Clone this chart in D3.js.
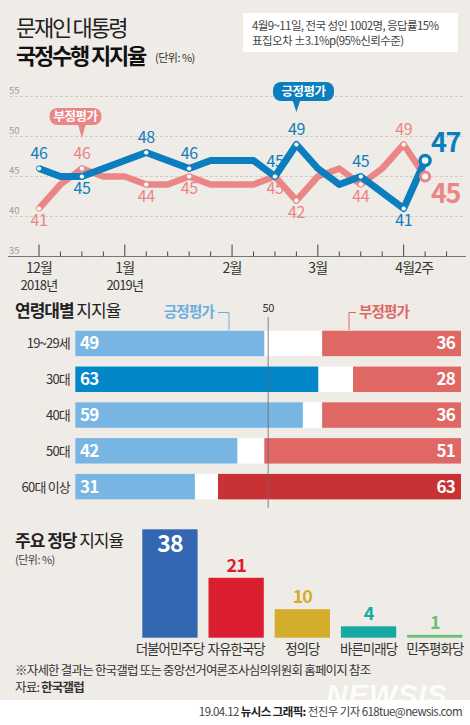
<!DOCTYPE html>
<html>
<head>
<meta charset="utf-8">
<script src="https://cdn.jsdelivr.net/npm/d3@7"></script>
<style>
  body { margin:0; background:#fff; }
  svg { display:block; font-family:"Noto Sans CJK KR","Noto Sans",sans-serif; }
</style>
</head>
<body>
<div id="chart"></div>
<script>
// WEEKLY APPROVAL (12월 ~ 4월2주)
var posValues = [46,45,45,46,47,48,47,46,47,47,47,45,49,46,44,45,43,41,47];
var negValues = [41,44,46,45,45,44,44,45,44,44,44,45,42,45,46,44,46,49,45];
var labelIdx = [0,2,5,7,11,12,15,17];
var monthIdx = [0,4,9,13,17];
var monthLabels = ["12월","1월","2월","3월","4월2주"];
var yearLabels = ["2018년","2019년","","",""];
var yTicks = [35,40,45,50,55];

// AGE GROUPS
var ageGroups = ["19~29세","30대","40대","50대","60대 이상"];
var agePos = [49,63,59,42,31];
var ageNeg = [36,28,36,51,63];

// PARTIES
var parties = ["더불어민주당","자유한국당","정의당","바른미래당","민주평화당"];
var partyValues = [38,21,10,4,1];
var partyColors = ["#3467b1","#da1e30","#d3ad2b","#17a9a3","#6bbf7b"];

var W = 470, H = 725;
var BLUE = "#0a7ebe", PINK = "#ea8686";

var svg = d3.select("#chart").append("svg")
  .attr("width", W).attr("height", H);

svg.append("clipPath").attr("id", "bgclip")
  .append("rect").attr("width", W).attr("height", 700);
svg.append("rect").attr("width", W).attr("height", 700).attr("fill", "#efebe6");

//HEADER
svg.append("text").attr("x", 16).attr("y", 36).attr("font-size", 22).attr("fill", "#222")
  .attr("letter-spacing", -2.3).text("문재인 대통령");
svg.append("text").attr("x", 16).attr("y", 64).attr("font-size", 22).attr("font-weight", "bold")
  .attr("fill", "#111").attr("letter-spacing", -2.2).text("국정수행 지지율");
svg.append("text").attr("x", 155).attr("y", 62).attr("font-size", 11).attr("fill", "#333")
  .attr("letter-spacing", -0.5).text("(단위: %)");

svg.append("rect").attr("x", 243).attr("y", 13).attr("width", 215).attr("height", 39).attr("fill", "#fff");
svg.append("text").attr("x", 252).attr("y", 30).attr("font-size", 11.5).attr("fill", "#444")
  .attr("letter-spacing", -0.6).text("4월9~11일, 전국 성인 1002명, 응답률15%");
svg.append("text").attr("x", 252).attr("y", 45).attr("font-size", 11.5).attr("fill", "#444")
  .attr("letter-spacing", -0.6).text("표집오차 ±3.1%p(95%신뢰수준)");

//LINE CHART
var x = d3.scaleLinear().domain([0, 19]).range([39, 39 + 19 * 21.45]);
var y = d3.scaleLinear().domain([35, 55]).range([256.5, 96.5]);

var lc = svg.append("g");
yTicks.forEach(function(t) {
  if (t > 35) {
    lc.append("line").attr("x1", 10).attr("x2", 465).attr("y1", y(t)).attr("y2", y(t))
      .attr("stroke", "#c8c4bf").attr("stroke-width", 0.8).attr("stroke-dasharray", "3,2");
  }
  lc.append("text").attr("x", 9).attr("y", y(t) - 3).attr("font-size", 9.5)
    .attr("fill", "#a09c98").text(t);
});
lc.append("line").attr("x1", 8).attr("x2", 466).attr("y1", y(35)).attr("y2", y(35))
  .attr("stroke", "#777").attr("stroke-width", 1);

d3.range(0, 20).forEach(function(i) {
  var major = monthIdx.indexOf(i) >= 0;
  lc.append("line").attr("x1", x(i)).attr("x2", x(i))
    .attr("y1", y(35) - (major ? 12 : 5)).attr("y2", y(35))
    .attr("stroke", "#444").attr("stroke-width", 1);
});
monthIdx.forEach(function(i, k) {
  var cx = k === monthIdx.length - 1 ? (x(i) + x(i + 1)) / 2 : x(i);
  lc.append("text").attr("x", cx).attr("y", 273).attr("text-anchor", "middle")
    .attr("font-size", 14).attr("fill", "#333").attr("letter-spacing", -0.8).text(monthLabels[k]);
  if (yearLabels[k]) {
    lc.append("text").attr("x", cx).attr("y", 290).attr("text-anchor", "middle")
      .attr("font-size", 13).attr("fill", "#333").attr("letter-spacing", -0.8).text(yearLabels[k]);
  }
});

var line = d3.line().x(function(d, i) { return x(i); }).y(function(d) { return y(d); });

lc.append("path").datum(negValues).attr("d", line).attr("fill", "none")
  .attr("stroke", PINK).attr("stroke-width", 6.5).attr("stroke-linejoin", "round");
lc.append("path").datum(posValues).attr("d", line).attr("fill", "none")
  .attr("stroke", BLUE).attr("stroke-width", 7).attr("stroke-linejoin", "round");

// markers + small labels
[[negValues, PINK, posValues, false], [posValues, BLUE, negValues, true]].forEach(function(s) {
  var vals = s[0], col = s[1], other = s[2], isPos = s[3];
  labelIdx.forEach(function(i) {
    var up = isPos ? vals[i] >= other[i] : vals[i] > other[i];
    lc.append("circle").attr("cx", x(i)).attr("cy", y(vals[i])).attr("r", 2.6)
      .attr("fill", "#fff").attr("stroke", col).attr("stroke-width", 1);
    lc.append("text").attr("x", x(i)).attr("y", up ? y(vals[i]) - 10 : y(vals[i]) + 17)
      .attr("text-anchor", "middle").attr("font-size", 16).attr("fill", col)
      .attr("letter-spacing", -0.5).text(vals[i]);
  });
  var last = vals.length - 1;
  lc.append("circle").attr("cx", x(last)).attr("cy", y(vals[last])).attr("r", isPos ? 5 : 4.5)
    .attr("fill", "#fff").attr("stroke", col).attr("stroke-width", isPos ? 3.5 : 3);
  lc.append("text").attr("x", 431).attr("y", isPos ? 152 : 203)
    .attr("font-size", 27).attr("font-weight", "bold").attr("fill", col)
    .attr("letter-spacing", -1.5).text(vals[last]);
});

// callouts
function callout(cx, top, w, h, tipX, tipY, col, label) {
  var g = lc.append("g");
  g.append("rect").attr("x", cx - w / 2).attr("y", top).attr("width", w).attr("height", h)
    .attr("rx", 8).attr("fill", col);
  g.append("path").attr("d", "M" + (tipX - 4) + "," + (top + h - 1) + "L" + tipX + "," + tipY +
    "L" + (tipX + 4) + "," + (top + h - 1) + "Z").attr("fill", col);
  g.append("text").attr("x", cx).attr("y", top + h / 2 + 4.5).attr("text-anchor", "middle")
    .attr("font-size", 12.5).attr("font-weight", "bold").attr("fill", "#fff")
    .attr("letter-spacing", -0.5).text(label);
}
callout(75.5, 108, 52, 17, x(2), 138, PINK, "부정평가");
callout(303.5, 82, 61, 19, x(12), 112, BLUE, "긍정평가");

//AGE BARS
var ax = d3.scaleLinear().domain([0, 100]).range([75.3, 461]);
var ay = d3.scaleBand().domain(ageGroups).range([330.7, 499.4]).paddingInner(0.288).paddingOuter(0);
var maxPos = d3.max(agePos), maxNeg = d3.max(ageNeg);

var ab = svg.append("g");
ab.append("text").attr("x", 15).attr("y", 317).attr("font-size", 17).attr("fill", "#222")
  .attr("letter-spacing", -1)
  .call(function(t) {
    t.append("tspan").attr("font-weight", "bold").text("연령대별");
    t.append("tspan").text(" 지지율");
  });

ageGroups.forEach(function(g, i) {
  var by = ay(g), bh = ay.bandwidth();
  ab.append("rect").attr("x", ax(0)).attr("y", by).attr("width", ax(100) - ax(0)).attr("height", bh)
    .attr("fill", "#fff");
  ab.append("rect").attr("x", ax(0)).attr("y", by).attr("width", ax(agePos[i]) - ax(0)).attr("height", bh)
    .attr("fill", agePos[i] === maxPos ? "#0288c8" : "#78b5e2");
  ab.append("rect").attr("x", ax(100 - ageNeg[i])).attr("y", by)
    .attr("width", ax(100) - ax(100 - ageNeg[i])).attr("height", bh)
    .attr("fill", ageNeg[i] === maxNeg ? "#c83234" : "#e06864");
  ab.append("text").attr("x", 70).attr("y", by + bh / 2 + 5).attr("text-anchor", "end")
    .attr("font-size", 13).attr("fill", "#333").attr("letter-spacing", -0.8).text(g);
  ab.append("text").attr("x", 80).attr("y", by + bh / 2 + 6).attr("font-size", 17)
    .attr("font-weight", "bold").attr("fill", "#fff").attr("letter-spacing", -0.8).text(agePos[i]);
  ab.append("text").attr("x", 455).attr("y", by + bh / 2 + 6).attr("text-anchor", "end").attr("font-size", 17)
    .attr("font-weight", "bold").attr("fill", "#fff").attr("letter-spacing", -0.8).text(ageNeg[i]);
});

ab.append("line").attr("x1", ax(50)).attr("x2", ax(50)).attr("y1", 317).attr("y2", 508)
  .attr("stroke", "#666").attr("stroke-width", 0.8);
ab.append("text").attr("x", ax(50)).attr("y", 312).attr("text-anchor", "middle")
  .attr("font-size", 11).attr("fill", "#333").attr("letter-spacing", -0.5).text("50");

ab.append("text").attr("x", 214).attr("y", 317).attr("text-anchor", "end").attr("font-size", 14.5)
  .attr("font-weight", "bold").attr("fill", "#6aafe0").attr("letter-spacing", -0.8).text("긍정평가");
ab.append("path").attr("d", "M218,312.5H229V330").attr("fill", "none").attr("stroke", "#6aafe0").attr("stroke-width", 1);
ab.append("text").attr("x", 359).attr("y", 317).attr("font-size", 14.5)
  .attr("font-weight", "bold").attr("fill", "#e06864").attr("letter-spacing", -0.8).text("부정평가");
ab.append("path").attr("d", "M356,312.5H349V330").attr("fill", "none").attr("stroke", "#e06864").attr("stroke-width", 1);

//PARTY BARS
var px = d3.scaleBand().domain(parties).range([142.3, 462.4]).paddingInner(0.165).paddingOuter(0);
var py = d3.scaleLinear().domain([0, 40]).range([637.7, 523.6]);

var pb = svg.append("g");
pb.append("text").attr("x", 15).attr("y", 547).attr("font-size", 17).attr("fill", "#222")
  .attr("letter-spacing", -1)
  .call(function(t) {
    t.append("tspan").attr("font-weight", "bold").text("주요 정당");
    t.append("tspan").text(" 지지율");
  });
pb.append("text").attr("x", 15).attr("y", 564).attr("font-size", 11).attr("fill", "#444")
  .attr("letter-spacing", -0.5).text("(단위: %)");

parties.forEach(function(p, i) {
  var v = partyValues[i];
  pb.append("rect").attr("x", px(p)).attr("y", py(v)).attr("width", px.bandwidth())
    .attr("height", py(0) - py(v)).attr("fill", partyColors[i]);
  var inside = i === 0;
  pb.append("text").attr("x", px(p) + px.bandwidth() / 2).attr("y", inside ? py(v) + 23 : py(v) - 6)
    .attr("text-anchor", "middle").attr("font-size", inside ? 23 : 18).attr("font-weight", "bold")
    .attr("fill", inside ? "#fff" : partyColors[i]).attr("letter-spacing", -1).text(v);
  pb.append("text").attr("x", px(p) + px.bandwidth() / 2).attr("y", 654)
    .attr("text-anchor", "middle").attr("font-size", 13.5).attr("fill", "#333")
    .attr("letter-spacing", -1).text(p);
});

//FOOTER
svg.append("g").attr("clip-path", "url(#bgclip)")
  .append("text").attr("x", 326).attr("y", 705).attr("font-size", 30).attr("font-weight", "bold")
  .attr("font-style", "italic").attr("fill", "#fff").attr("opacity", 0.85)
  .attr("font-family", "Liberation Sans, sans-serif").attr("letter-spacing", 0.5).text("NEWSIS");
svg.append("text").attr("x", 15).attr("y", 675).attr("font-size", 12.5).attr("fill", "#333")
  .attr("letter-spacing", -0.8).text("※자세한 결과는 한국갤럽 또는 중앙선거여론조사심의위원회 홈페이지 참조");
svg.append("text").attr("x", 15).attr("y", 692).attr("font-size", 12.5).attr("fill", "#333")
  .attr("letter-spacing", -0.8)
  .call(function(t) {
    t.append("tspan").text("자료: ");
    t.append("tspan").attr("font-weight", "bold").text("한국갤럽");
  });
svg.append("text").attr("x", 462).attr("y", 716).attr("text-anchor", "end").attr("font-size", 11.5)
  .attr("fill", "#444").attr("letter-spacing", -0.6)
  .call(function(t) {
    t.append("tspan").text("19.04.12 ");
    t.append("tspan").attr("font-weight", "bold").attr("fill", "#222").text("뉴시스 그래픽: ");
    t.append("tspan").text("전진우 기자 618tue@newsis.com");
  });
</script>
</body>
</html>
